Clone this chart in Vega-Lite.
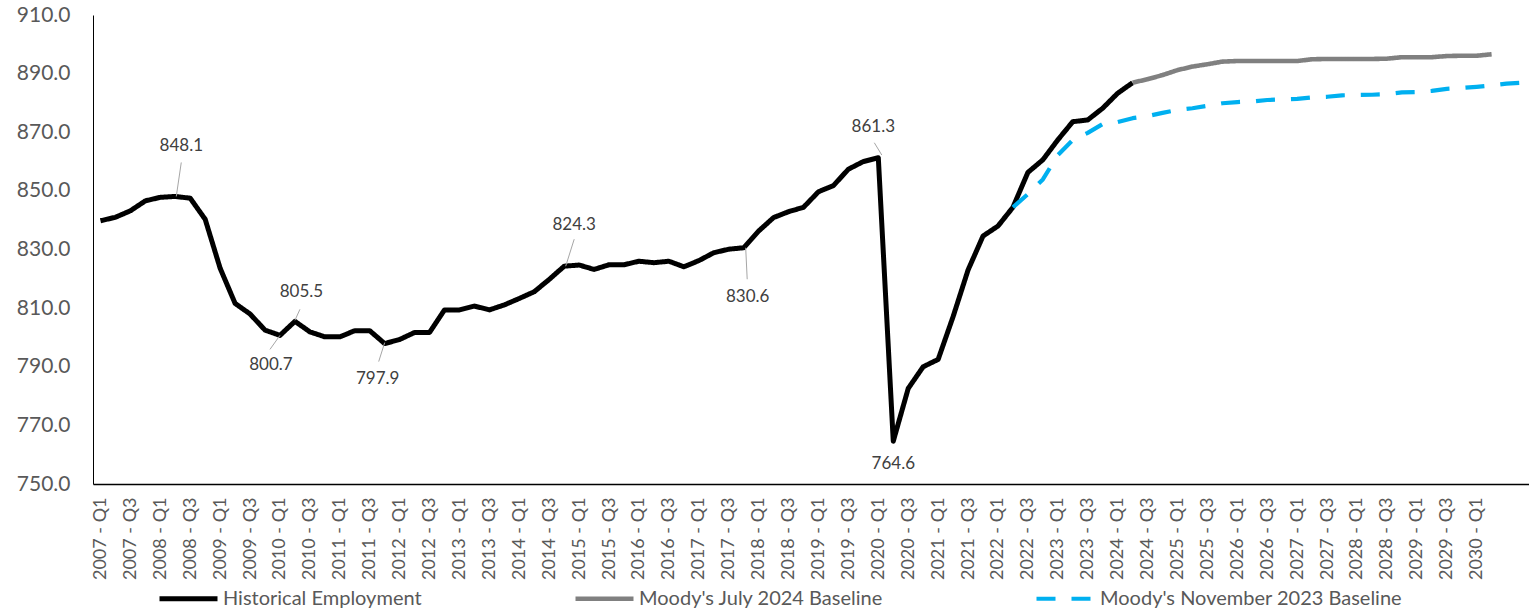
{
  "$schema": "https://vega.github.io/schema/vega-lite/v6.json",
  "autosize": {"type": "none"},
  "padding": {"left": 93, "top": 15, "right": 0, "bottom": 128},
  "width": 1436,
  "height": 469,
  "background": "white",
  "config": {
    "view": {"stroke": null},
    "font": "Lato",
    "legend": {"labelLimit": 500}
  },
  "data": {"values": [
    {"q":"2007 - Q1","s":"Historical Employment","v":839.8},
    {"q":"2007 - Q2","s":"Historical Employment","v":841.0},
    {"q":"2007 - Q3","s":"Historical Employment","v":843.2},
    {"q":"2007 - Q4","s":"Historical Employment","v":846.6},
    {"q":"2008 - Q1","s":"Historical Employment","v":847.8},
    {"q":"2008 - Q2","s":"Historical Employment","v":848.1},
    {"q":"2008 - Q3","s":"Historical Employment","v":847.5},
    {"q":"2008 - Q4","s":"Historical Employment","v":840.3},
    {"q":"2009 - Q1","s":"Historical Employment","v":823.6},
    {"q":"2009 - Q2","s":"Historical Employment","v":811.6},
    {"q":"2009 - Q3","s":"Historical Employment","v":808.0},
    {"q":"2009 - Q4","s":"Historical Employment","v":802.5},
    {"q":"2010 - Q1","s":"Historical Employment","v":800.7},
    {"q":"2010 - Q2","s":"Historical Employment","v":805.5},
    {"q":"2010 - Q3","s":"Historical Employment","v":801.9},
    {"q":"2010 - Q4","s":"Historical Employment","v":800.2},
    {"q":"2011 - Q1","s":"Historical Employment","v":800.2},
    {"q":"2011 - Q2","s":"Historical Employment","v":802.3},
    {"q":"2011 - Q3","s":"Historical Employment","v":802.3},
    {"q":"2011 - Q4","s":"Historical Employment","v":797.9},
    {"q":"2012 - Q1","s":"Historical Employment","v":799.3},
    {"q":"2012 - Q2","s":"Historical Employment","v":801.7},
    {"q":"2012 - Q3","s":"Historical Employment","v":801.7},
    {"q":"2012 - Q4","s":"Historical Employment","v":809.4},
    {"q":"2013 - Q1","s":"Historical Employment","v":809.4},
    {"q":"2013 - Q2","s":"Historical Employment","v":810.7},
    {"q":"2013 - Q3","s":"Historical Employment","v":809.4},
    {"q":"2013 - Q4","s":"Historical Employment","v":811.1},
    {"q":"2014 - Q1","s":"Historical Employment","v":813.3},
    {"q":"2014 - Q2","s":"Historical Employment","v":815.6},
    {"q":"2014 - Q3","s":"Historical Employment","v":819.8},
    {"q":"2014 - Q4","s":"Historical Employment","v":824.3},
    {"q":"2015 - Q1","s":"Historical Employment","v":824.7},
    {"q":"2015 - Q2","s":"Historical Employment","v":823.2},
    {"q":"2015 - Q3","s":"Historical Employment","v":824.8},
    {"q":"2015 - Q4","s":"Historical Employment","v":824.8},
    {"q":"2016 - Q1","s":"Historical Employment","v":826.0},
    {"q":"2016 - Q2","s":"Historical Employment","v":825.5},
    {"q":"2016 - Q3","s":"Historical Employment","v":826.0},
    {"q":"2016 - Q4","s":"Historical Employment","v":824.1},
    {"q":"2017 - Q1","s":"Historical Employment","v":826.2},
    {"q":"2017 - Q2","s":"Historical Employment","v":828.9},
    {"q":"2017 - Q3","s":"Historical Employment","v":830.1},
    {"q":"2017 - Q4","s":"Historical Employment","v":830.6},
    {"q":"2018 - Q1","s":"Historical Employment","v":836.3},
    {"q":"2018 - Q2","s":"Historical Employment","v":840.9},
    {"q":"2018 - Q3","s":"Historical Employment","v":842.9},
    {"q":"2018 - Q4","s":"Historical Employment","v":844.4},
    {"q":"2019 - Q1","s":"Historical Employment","v":849.7},
    {"q":"2019 - Q2","s":"Historical Employment","v":851.8},
    {"q":"2019 - Q3","s":"Historical Employment","v":857.4},
    {"q":"2019 - Q4","s":"Historical Employment","v":860.0},
    {"q":"2020 - Q1","s":"Historical Employment","v":861.3},
    {"q":"2020 - Q2","s":"Historical Employment","v":764.6},
    {"q":"2020 - Q3","s":"Historical Employment","v":782.6},
    {"q":"2020 - Q4","s":"Historical Employment","v":790.0},
    {"q":"2021 - Q1","s":"Historical Employment","v":792.5},
    {"q":"2021 - Q2","s":"Historical Employment","v":807.1},
    {"q":"2021 - Q3","s":"Historical Employment","v":823.0},
    {"q":"2021 - Q4","s":"Historical Employment","v":834.6},
    {"q":"2022 - Q1","s":"Historical Employment","v":838.0},
    {"q":"2022 - Q2","s":"Historical Employment","v":844.4},
    {"q":"2022 - Q3","s":"Historical Employment","v":856.3},
    {"q":"2022 - Q4","s":"Historical Employment","v":860.6},
    {"q":"2023 - Q1","s":"Historical Employment","v":867.4},
    {"q":"2023 - Q2","s":"Historical Employment","v":873.6},
    {"q":"2023 - Q3","s":"Historical Employment","v":874.2},
    {"q":"2023 - Q4","s":"Historical Employment","v":878.2},
    {"q":"2024 - Q1","s":"Historical Employment","v":883.3},
    {"q":"2024 - Q2","s":"Historical Employment","v":886.9},
    {"q":"2024 - Q2","s":"Moody's July 2024 Baseline","v":886.9},
    {"q":"2024 - Q3","s":"Moody's July 2024 Baseline","v":888.1},
    {"q":"2024 - Q4","s":"Moody's July 2024 Baseline","v":889.5},
    {"q":"2025 - Q1","s":"Moody's July 2024 Baseline","v":891.2},
    {"q":"2025 - Q2","s":"Moody's July 2024 Baseline","v":892.4},
    {"q":"2025 - Q3","s":"Moody's July 2024 Baseline","v":893.2},
    {"q":"2025 - Q4","s":"Moody's July 2024 Baseline","v":894.1},
    {"q":"2026 - Q1","s":"Moody's July 2024 Baseline","v":894.3},
    {"q":"2026 - Q2","s":"Moody's July 2024 Baseline","v":894.3},
    {"q":"2026 - Q3","s":"Moody's July 2024 Baseline","v":894.3},
    {"q":"2026 - Q4","s":"Moody's July 2024 Baseline","v":894.3},
    {"q":"2027 - Q1","s":"Moody's July 2024 Baseline","v":894.3},
    {"q":"2027 - Q2","s":"Moody's July 2024 Baseline","v":894.9},
    {"q":"2027 - Q3","s":"Moody's July 2024 Baseline","v":895.0},
    {"q":"2027 - Q4","s":"Moody's July 2024 Baseline","v":895.0},
    {"q":"2028 - Q1","s":"Moody's July 2024 Baseline","v":895.0},
    {"q":"2028 - Q2","s":"Moody's July 2024 Baseline","v":895.0},
    {"q":"2028 - Q3","s":"Moody's July 2024 Baseline","v":895.1},
    {"q":"2028 - Q4","s":"Moody's July 2024 Baseline","v":895.6},
    {"q":"2029 - Q1","s":"Moody's July 2024 Baseline","v":895.6},
    {"q":"2029 - Q2","s":"Moody's July 2024 Baseline","v":895.6},
    {"q":"2029 - Q3","s":"Moody's July 2024 Baseline","v":896.0},
    {"q":"2029 - Q4","s":"Moody's July 2024 Baseline","v":896.1},
    {"q":"2030 - Q1","s":"Moody's July 2024 Baseline","v":896.1},
    {"q":"2030 - Q2","s":"Moody's July 2024 Baseline","v":896.6},
    {"q":"2022 - Q2","s":"Moody's November 2023 Baseline","v":844.4},
    {"q":"2022 - Q3","s":"Moody's November 2023 Baseline","v":848.9},
    {"q":"2022 - Q4","s":"Moody's November 2023 Baseline","v":853.9},
    {"q":"2023 - Q1","s":"Moody's November 2023 Baseline","v":862.2},
    {"q":"2023 - Q2","s":"Moody's November 2023 Baseline","v":867.4},
    {"q":"2023 - Q3","s":"Moody's November 2023 Baseline","v":869.8},
    {"q":"2023 - Q4","s":"Moody's November 2023 Baseline","v":872.8},
    {"q":"2024 - Q1","s":"Moody's November 2023 Baseline","v":873.5},
    {"q":"2024 - Q2","s":"Moody's November 2023 Baseline","v":874.8},
    {"q":"2024 - Q3","s":"Moody's November 2023 Baseline","v":875.5},
    {"q":"2024 - Q4","s":"Moody's November 2023 Baseline","v":876.6},
    {"q":"2025 - Q1","s":"Moody's November 2023 Baseline","v":877.6},
    {"q":"2025 - Q2","s":"Moody's November 2023 Baseline","v":878.2},
    {"q":"2025 - Q3","s":"Moody's November 2023 Baseline","v":879.0},
    {"q":"2025 - Q4","s":"Moody's November 2023 Baseline","v":879.9},
    {"q":"2026 - Q1","s":"Moody's November 2023 Baseline","v":880.3},
    {"q":"2026 - Q2","s":"Moody's November 2023 Baseline","v":880.5},
    {"q":"2026 - Q3","s":"Moody's November 2023 Baseline","v":881.0},
    {"q":"2026 - Q4","s":"Moody's November 2023 Baseline","v":881.2},
    {"q":"2027 - Q1","s":"Moody's November 2023 Baseline","v":881.4},
    {"q":"2027 - Q2","s":"Moody's November 2023 Baseline","v":881.9},
    {"q":"2027 - Q3","s":"Moody's November 2023 Baseline","v":882.1},
    {"q":"2027 - Q4","s":"Moody's November 2023 Baseline","v":882.6},
    {"q":"2028 - Q1","s":"Moody's November 2023 Baseline","v":882.7},
    {"q":"2028 - Q2","s":"Moody's November 2023 Baseline","v":882.8},
    {"q":"2028 - Q3","s":"Moody's November 2023 Baseline","v":883.0},
    {"q":"2028 - Q4","s":"Moody's November 2023 Baseline","v":883.6},
    {"q":"2029 - Q1","s":"Moody's November 2023 Baseline","v":883.7},
    {"q":"2029 - Q2","s":"Moody's November 2023 Baseline","v":884.1},
    {"q":"2029 - Q3","s":"Moody's November 2023 Baseline","v":884.8},
    {"q":"2029 - Q4","s":"Moody's November 2023 Baseline","v":885.1},
    {"q":"2030 - Q1","s":"Moody's November 2023 Baseline","v":885.5},
    {"q":"2030 - Q2","s":"Moody's November 2023 Baseline","v":886.0},
    {"q":"2030 - Q3","s":"Moody's November 2023 Baseline","v":886.6},
    {"q":"2030 - Q4","s":"Moody's November 2023 Baseline","v":886.9}
  ]},
  "encoding": {
    "x": {
      "field": "q", "type": "ordinal",
      "scale": {"type": "point", "padding": 0.5},
      "axis": {
        "title": null, "labelAngle": -90, "ticks": false, "labelPadding": 13,
        "labelFont": "Lato", "labelFontSize": 18, "labelColor": "#595959",
        "labelOverlap": false, "domainColor": "#000000", "domainWidth": 1.5,
        "labelExpr": "(indexof(datum.label,'Q2')>=0 || indexof(datum.label,'Q4')>=0 || datum.label > '2030 - Q1') ? '' : datum.label"
      }
    },
    "y": {
      "field": "v", "type": "quantitative",
      "scale": {"domain": [750, 910], "nice": false, "zero": false},
      "axis": {
        "title": null, "values": [750,770,790,810,830,850,870,890,910], "format": ".1f",
        "grid": false, "ticks": false, "labelPadding": 23,
        "labelFont": "Lato", "labelFontSize": 21, "labelColor": "#595959",
        "domainColor": "#000000", "domainWidth": 1
      }
    }
  },
  "layer": [
    {
      "mark": {"type": "line", "strokeJoin": "round", "strokeCap": "butt"},
      "encoding": {
        "color": {"field": "s", "type": "nominal",
          "scale": {"domain": ["Historical Employment","Moody's July 2024 Baseline","Moody's November 2023 Baseline"], "range": ["#000000","#808080","#00B0F0"]},
          "legend": {"title": null, "orient": "none", "legendX": 64, "legendY": 552, "direction": "horizontal",
            "symbolType": "stroke", "symbolSize": 3364, "labelFont": "Lato", "labelFontSize": 20, "labelColor": "#595959",
            "columnPadding": 144, "labelOffset": 3, "padding": 0, "labelLimit": 500}
        },
        "strokeDash": {"field": "s", "type": "nominal",
          "scale": {"domain": ["Historical Employment","Moody's July 2024 Baseline","Moody's November 2023 Baseline"], "range": [[1,0],[1,0],[19,16]]},
          "legend": {"title": null, "orient": "none", "legendX": 64, "legendY": 552, "direction": "horizontal",
            "symbolType": "stroke", "symbolSize": 3364, "labelFont": "Lato", "labelFontSize": 20, "labelColor": "#595959",
            "columnPadding": 144, "labelOffset": 3, "padding": 0, "labelLimit": 500}
        },
        "strokeWidth": {"field": "s", "type": "nominal",
          "scale": {"domain": ["Historical Employment","Moody's July 2024 Baseline","Moody's November 2023 Baseline"], "range": [5, 4.2, 5]},
          "legend": {"title": null, "orient": "none", "legendX": 64, "legendY": 552, "direction": "horizontal",
            "symbolType": "stroke", "symbolSize": 3364, "labelFont": "Lato", "labelFontSize": 20, "labelColor": "#595959",
            "columnPadding": 144, "labelOffset": 3, "padding": 0, "labelLimit": 500}
        }
      }
    },
    {
      "transform": [{"filter": "datum.s == 'Historical Employment' && datum.q == '2008 - Q2'"}],
      "mark": {"type": "rule", "color": "#A6A6A6", "strokeWidth": 1, "xOffset": 1, "yOffset": 0, "x2Offset": 6, "y2Offset": -34},
      "encoding": {"x2": {"field": "q"}, "y2": {"field": "v"}}
    },
    {
      "transform": [{"filter": "datum.s == 'Historical Employment' && datum.q == '2010 - Q2'"}],
      "mark": {"type": "rule", "color": "#A6A6A6", "strokeWidth": 1, "xOffset": 0, "yOffset": -1, "x2Offset": 5, "y2Offset": -12},
      "encoding": {"x2": {"field": "q"}, "y2": {"field": "v"}}
    },
    {
      "transform": [{"filter": "datum.s == 'Historical Employment' && datum.q == '2010 - Q1'"}],
      "mark": {"type": "rule", "color": "#A6A6A6", "strokeWidth": 1, "xOffset": 0, "yOffset": 0, "x2Offset": -10, "y2Offset": 14},
      "encoding": {"x2": {"field": "q"}, "y2": {"field": "v"}}
    },
    {
      "transform": [{"filter": "datum.s == 'Historical Employment' && datum.q == '2011 - Q4'"}],
      "mark": {"type": "rule", "color": "#A6A6A6", "strokeWidth": 1, "xOffset": 0, "yOffset": -1, "x2Offset": -6, "y2Offset": 18},
      "encoding": {"x2": {"field": "q"}, "y2": {"field": "v"}}
    },
    {
      "transform": [{"filter": "datum.s == 'Historical Employment' && datum.q == '2014 - Q4'"}],
      "mark": {"type": "rule", "color": "#A6A6A6", "strokeWidth": 1, "xOffset": 1.5, "yOffset": 0, "x2Offset": 10, "y2Offset": -27},
      "encoding": {"x2": {"field": "q"}, "y2": {"field": "v"}}
    },
    {
      "transform": [{"filter": "datum.s == 'Historical Employment' && datum.q == '2017 - Q4'"}],
      "mark": {"type": "rule", "color": "#A6A6A6", "strokeWidth": 1, "xOffset": 2, "yOffset": 0, "x2Offset": 3.5, "y2Offset": 31.5},
      "encoding": {"x2": {"field": "q"}, "y2": {"field": "v"}}
    },
    {
      "transform": [{"filter": "datum.s == 'Historical Employment' && datum.q == '2020 - Q1'"}],
      "mark": {"type": "rule", "color": "#A6A6A6", "strokeWidth": 1, "xOffset": 3.5, "yOffset": -2.7, "x2Offset": -4, "y2Offset": -15},
      "encoding": {"x2": {"field": "q"}, "y2": {"field": "v"}}
    },
    {
      "transform": [{"filter": "datum.s == 'Historical Employment' && datum.q == '2008 - Q2'"}],
      "mark": {"type": "text", "font": "Lato", "fontSize": 17, "color": "#404040", "dx": 6, "dy": -50},
      "encoding": {"text": {"field": "v", "type": "quantitative", "format": ".1f"}}
    },
    {
      "transform": [{"filter": "datum.s == 'Historical Employment' && datum.q == '2010 - Q2'"}],
      "mark": {"type": "text", "font": "Lato", "fontSize": 17, "color": "#404040", "dx": 6.5, "dy": -29},
      "encoding": {"text": {"field": "v", "type": "quantitative", "format": ".1f"}}
    },
    {
      "transform": [{"filter": "datum.s == 'Historical Employment' && datum.q == '2010 - Q1'"}],
      "mark": {"type": "text", "font": "Lato", "fontSize": 17, "color": "#404040", "dx": -9, "dy": 30},
      "encoding": {"text": {"field": "v", "type": "quantitative", "format": ".1f"}}
    },
    {
      "transform": [{"filter": "datum.s == 'Historical Employment' && datum.q == '2011 - Q4'"}],
      "mark": {"type": "text", "font": "Lato", "fontSize": 17, "color": "#404040", "dx": -7, "dy": 35},
      "encoding": {"text": {"field": "v", "type": "quantitative", "format": ".1f"}}
    },
    {
      "transform": [{"filter": "datum.s == 'Historical Employment' && datum.q == '2014 - Q4'"}],
      "mark": {"type": "text", "font": "Lato", "fontSize": 17, "color": "#404040", "dx": 10, "dy": -41},
      "encoding": {"text": {"field": "v", "type": "quantitative", "format": ".1f"}}
    },
    {
      "transform": [{"filter": "datum.s == 'Historical Employment' && datum.q == '2017 - Q4'"}],
      "mark": {"type": "text", "font": "Lato", "fontSize": 17, "color": "#404040", "dx": 4, "dy": 49},
      "encoding": {"text": {"field": "v", "type": "quantitative", "format": ".1f"}}
    },
    {
      "transform": [{"filter": "datum.s == 'Historical Employment' && datum.q == '2020 - Q1'"}],
      "mark": {"type": "text", "font": "Lato", "fontSize": 17, "color": "#404040", "dx": -5, "dy": -31},
      "encoding": {"text": {"field": "v", "type": "quantitative", "format": ".1f"}}
    },
    {
      "transform": [{"filter": "datum.s == 'Historical Employment' && datum.q == '2020 - Q2'"}],
      "mark": {"type": "text", "font": "Lato", "fontSize": 17, "color": "#404040", "dx": 0, "dy": 23},
      "encoding": {"text": {"field": "v", "type": "quantitative", "format": ".1f"}}
    }
  ]
}
